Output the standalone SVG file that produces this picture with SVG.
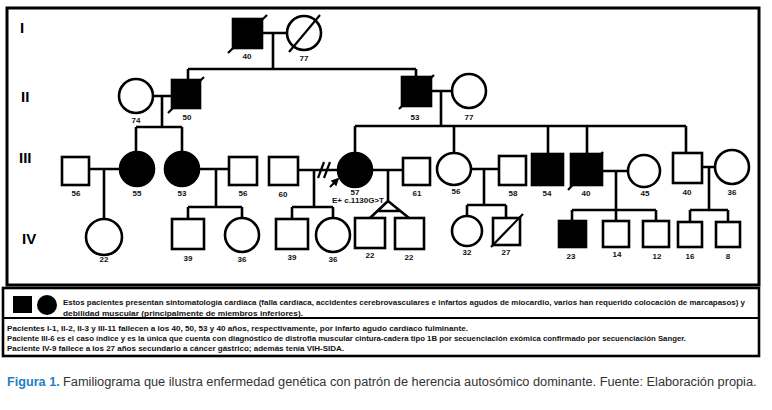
<svg xmlns="http://www.w3.org/2000/svg" width="772" height="410" viewBox="0 0 772 410">
<defs>
<style>
.s{fill:#fff;stroke:#000;stroke-width:2.6}
.a{fill:#000;stroke:#000;stroke-width:2.6}
.l{stroke:#000;stroke-width:2.6;fill:none}
.d{stroke:#000;stroke-width:2.2;fill:none}
.n{font-family:"Liberation Sans",Arial,sans-serif;font-weight:bold;font-size:8px;text-anchor:middle;fill:#111}
.g{font-family:"Liberation Sans",Arial,sans-serif;font-weight:bold;font-size:15px;fill:#000}
.t{font-family:"Liberation Sans",Arial,sans-serif;font-weight:bold;font-size:7.6px;fill:#111}
.c{font-family:"Liberation Sans",Arial,sans-serif;font-size:13.5px;fill:#333}
.cb{font-family:"Liberation Sans",Arial,sans-serif;font-size:13.5px;font-weight:bold;fill:#1d80c3}
</style>
<marker id="ah" viewBox="0 0 10 10" refX="8" refY="5" markerWidth="4" markerHeight="4" orient="auto"><path d="M0,0L10,5L0,10z" fill="#000"/></marker>
</defs>
<rect x="0" y="0" width="772" height="410" fill="#fff"/>
<rect x="7" y="8" width="752" height="277" fill="none" stroke="#000" stroke-width="3"/>
<g id="gen-labels">
<text class="g" x="20" y="33">I</text>
<text class="g" x="21" y="102">II</text>
<text class="g" x="19" y="163">III</text>
<text class="g" x="22" y="244">IV</text>
</g>
<g id="connectors">
<path class="l" d="M262,33H287M273,33V69M188,69H416M188,69V80M416,69V77"/>
<path class="l" d="M153,96H172M162,96V127M136,127H182M136,127V152M182,127V152"/>
<path class="l" d="M431,91H452M441,91V126M355,126H686M355,126V153M454,126V153M548,126V154M587,126V154M686,126V153"/>
<path class="l" d="M89,169H120M104,169V219"/>
<path class="l" d="M199,169H229M216,169V207M188,207H242M188,207V219M242,207V218"/>
<path class="l" d="M298,170H338M314,170V207M292,207H333M292,207V219M333,207V218"/>
<path class="d" d="M318,178L324,162M324,178L330,162"/>
<path class="l" d="M372,170H403M388,170V201M388,201L370,218M388,201L409,218M377,211H400"/>
<path class="l" d="M471,169H499M484,169V205M467,205H506M467,205V216M506,205V218"/>
<path class="l" d="M602,171H628M616,171V210M572,210H656M572,210V221M616,210V221M656,210V221"/>
<path class="l" d="M702,167H715M709,167V210M690,210H728M690,210V222M728,210V222"/>
<line x1="330" y1="187" x2="338" y2="179" stroke="#000" stroke-width="2" marker-end="url(#ah)"/>
</g>
<g id="I-1"><rect class="a" x="233" y="19" width="29" height="29"/><path class="d" d="M228,53L267,15"/><text class="n" x="247" y="59">40</text></g>
<g id="I-2"><circle class="s" cx="304" cy="33" r="17"/><path class="d" d="M289,52L320,15"/><text class="n" x="304" y="61">77</text></g>
<g id="II-1"><circle class="s" cx="136" cy="96" r="17"/><text class="n" x="136" y="123">74</text></g>
<g id="II-2"><rect class="a" x="172" y="80" width="28" height="28"/><path class="d" d="M168,113L204,77"/><text class="n" x="187" y="120">50</text></g>
<g id="II-3"><rect class="a" x="402" y="77" width="29" height="29"/><path class="d" d="M399,109L434,75"/><text class="n" x="415" y="120">53</text></g>
<g id="II-4"><circle class="s" cx="469" cy="91" r="17"/><text class="n" x="469" y="120">77</text></g>
<g id="III-1"><rect class="s" x="62" y="157" width="27" height="28"/><text class="n" x="76" y="196">56</text></g>
<g id="III-2"><circle class="a" cx="137" cy="169" r="17"/><text class="n" x="137" y="196">55</text></g>
<g id="III-3"><circle class="a" cx="182" cy="169" r="17"/><text class="n" x="182" y="196">53</text></g>
<g id="III-4"><rect class="s" x="229" y="157" width="28" height="28"/><text class="n" x="243" y="196">56</text></g>
<g id="III-5"><rect class="s" x="269" y="157" width="29" height="28"/><text class="n" x="283" y="197">60</text></g>
<g id="III-6"><circle class="a" cx="355" cy="170" r="17"/><text class="n" x="355" y="195">57</text><text class="n" x="358" y="203">E+ c.1130G&gt;T</text></g>
<g id="III-7"><rect class="s" x="403" y="158" width="27" height="27"/><text class="n" x="417" y="196">61</text></g>
<g id="III-8"><ellipse class="s" cx="454" cy="169" rx="17" ry="16"/><text class="n" x="456" y="194">56</text></g>
<g id="III-9"><rect class="s" x="499" y="156" width="27" height="29"/><text class="n" x="513" y="196">58</text></g>
<g id="III-10"><rect class="a" x="532" y="154" width="31" height="31"/><text class="n" x="547" y="196">54</text></g>
<g id="III-11"><rect class="a" x="571" y="154" width="31" height="31"/><path class="d" d="M568,190L603,152"/><text class="n" x="586" y="196">40</text></g>
<g id="III-12"><circle class="s" cx="644" cy="171" r="16"/><text class="n" x="645" y="196">45</text></g>
<g id="III-13"><rect class="s" x="673" y="153" width="29" height="30"/><text class="n" x="687" y="195">40</text></g>
<g id="III-14"><circle class="s" cx="732" cy="167" r="17"/><text class="n" x="732" y="195">36</text></g>
<g id="IV-1"><circle class="s" cx="104" cy="237" r="18"/><text class="n" x="104" y="262">22</text></g>
<g id="IV-2"><rect class="s" x="172" y="219" width="32" height="30"/><text class="n" x="188" y="261">39</text></g>
<g id="IV-3"><circle class="s" cx="242" cy="235" r="17"/><text class="n" x="242" y="262">36</text></g>
<g id="IV-4"><rect class="s" x="276" y="219" width="32" height="30"/><text class="n" x="292" y="260">39</text></g>
<g id="IV-5"><circle class="s" cx="333" cy="235" r="17"/><text class="n" x="333" y="262">36</text></g>
<g id="IV-6"><rect class="s" x="355" y="218" width="30" height="30"/><text class="n" x="370" y="258">22</text></g>
<g id="IV-7"><rect class="s" x="395" y="218" width="29" height="31"/><text class="n" x="409" y="260">22</text></g>
<g id="IV-8"><circle class="s" cx="467" cy="231" r="15"/><text class="n" x="467" y="255">32</text></g>
<g id="IV-9"><rect class="s" x="493" y="218" width="27" height="27"/><path class="d" d="M491,247L523,214"/><text class="n" x="506" y="255">27</text></g>
<g id="IV-10"><rect class="a" x="559" y="221" width="27" height="26"/><text class="n" x="571" y="259">23</text></g>
<g id="IV-11"><rect class="s" x="603" y="221" width="26" height="26"/><text class="n" x="617" y="257">14</text></g>
<g id="IV-12"><rect class="s" x="643" y="221" width="26" height="26"/><text class="n" x="657" y="259">12</text></g>
<g id="IV-13"><rect class="s" x="678" y="222" width="24" height="25"/><text class="n" x="690" y="259">16</text></g>
<g id="IV-14"><rect class="s" x="716" y="222" width="24" height="25"/><text class="n" x="728" y="259">8</text></g>
<g id="legend">
<rect x="3" y="288" width="756" height="68" fill="none" stroke="#000" stroke-width="2.6"/>
<line x1="3" y1="318" x2="759" y2="318" stroke="#000" stroke-width="2"/>
<rect x="13" y="296" width="19" height="17" fill="#000"/>
<circle cx="47" cy="305" r="10" fill="#000"/>
<text class="t" x="63" y="305" textLength="682" lengthAdjust="spacingAndGlyphs">Estos pacientes presentan sintomatología cardíaca (falla cardíaca, accidentes cerebrovasculares e infartos agudos de miocardio, varios han requerido colocación de marcapasos) y</text>
<text class="t" x="63" y="316" textLength="240" lengthAdjust="spacingAndGlyphs">debilidad muscular (principalmente de miembros inferiores).</text>
<text class="t" x="7" y="331" textLength="461" lengthAdjust="spacingAndGlyphs">Pacientes I-1, II-2, II-3 y III-11 fallecen a los 40, 50, 53 y 40 años, respectivamente, por infarto agudo cardíaco fulminante.</text>
<text class="t" x="7" y="341" textLength="679" lengthAdjust="spacingAndGlyphs">Paciente III-6 es el caso índice y es la única que cuenta con diagnóstico de distrofia muscular cintura-cadera tipo 1B por secuenciación exómica confirmado por secuenciación Sanger.</text>
<text class="t" x="7" y="351" textLength="337" lengthAdjust="spacingAndGlyphs">Paciente IV-9 fallece a los 27 años secundario a cáncer gástrico; además tenía VIH-SIDA.</text>
</g>
<g id="caption">
<text class="cb" transform="translate(7,386) scale(0.85,1)" x="0" y="0" textLength="62" lengthAdjust="spacingAndGlyphs">Figura 1.</text>
<text class="c" transform="translate(63,386) scale(0.85,1)" x="0" y="0" textLength="816" lengthAdjust="spacingAndGlyphs">Familiograma que ilustra enfermedad genética con patrón de herencia autosómico dominante. Fuente: Elaboración propia.</text>
</g>
</svg>
